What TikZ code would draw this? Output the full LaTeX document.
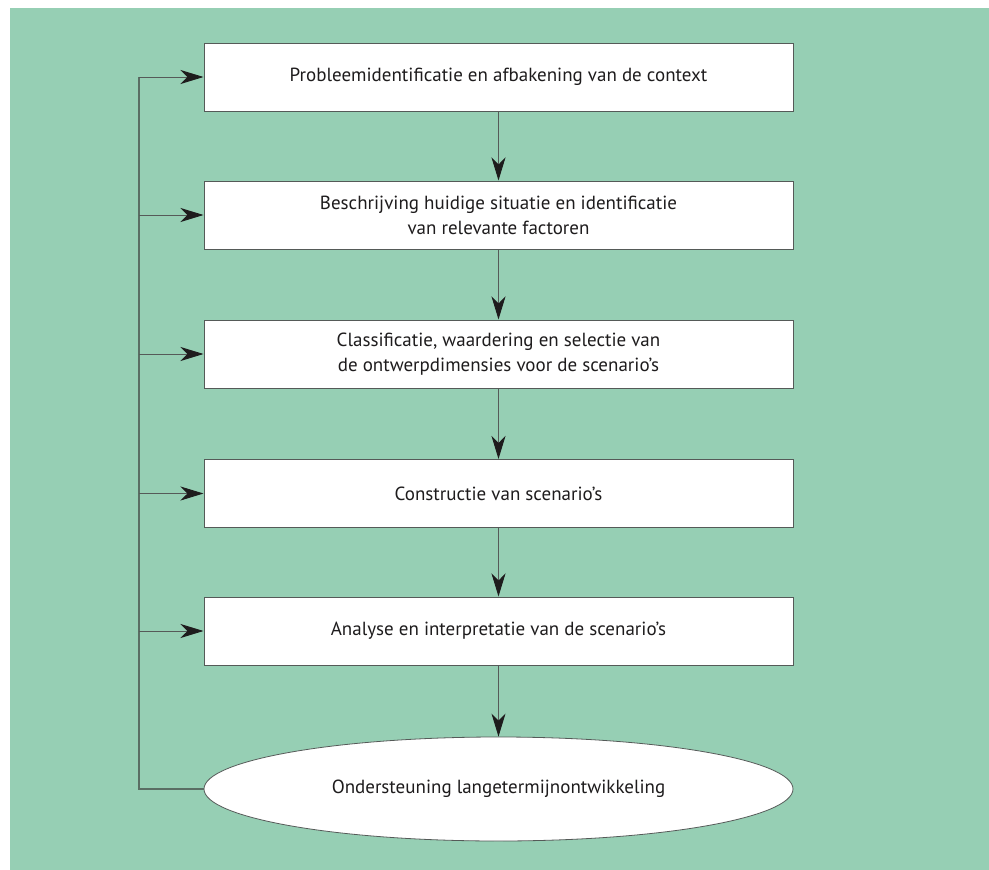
\documentclass[tikz,border=0pt]{standalone}
\usepackage{fontspec}
\setmainfont{PT Sans}
\usetikzlibrary{arrows.meta,shapes.geometric}
\definecolor{panel}{RGB}{150,207,180}
\definecolor{ink}{RGB}{30,28,29}
\definecolor{rule}{RGB}{85,90,88}
\definecolor{loopline}{RGB}{90,110,100}
\begin{document}
\begin{tikzpicture}[x=1pt,y=-1pt,
  stepbox/.style={draw=rule,line width=1pt,fill=white,minimum width=589pt,minimum height=68pt,
    inner sep=0pt,align=center,font=\fontsize{19}{25}\selectfont,text=ink},
  goal/.style={ellipse,draw=rule,line width=0.8pt,fill=white,minimum width=589pt,minimum height=104pt,
    inner sep=0pt,font=\fontsize{19}{25}\selectfont,text=ink},
  flow/.style={draw=rule,line width=0.9pt,-{Stealth[length=23pt,width=14pt,inset=7pt,color=ink]}},
  loop/.style={draw=loopline,line width=1.4pt}]
\useasboundingbox (0,0) rectangle (989,870);
\fill[panel] (10,8) rectangle (989,870);

\node[stepbox] (s1) at (498.5,77) {Probleemidentificatie en afbakening van de context};
\node[stepbox] (s2) at (498.5,215) {Beschrijving huidige situatie en identificatie\\van relevante factoren};
\node[stepbox] (s3) at (498.5,354) {Classificatie, waardering en selectie van\\de ontwerpdimensies voor de scenario's};
\node[stepbox] (s4) at (498.5,493.5) {Constructie van scenario's};
\node[stepbox] (s5) at (498.5,631) {Analyse en interpretatie van de scenario's};
\node[goal] (g) at (498.5,789) {Ondersteuning langetermijnontwikkeling};

% downward flow
\draw[flow] (s1) -- (s2);
\draw[flow] (s2) -- (s3);
\draw[flow] (s3) -- (s4);
\draw[flow] (s4) -- (s5);
\draw[flow] (s5) -- (g);

% feedback line on the left
\coordinate (top) at (139,77);
\coordinate (bot) at (139,789);
\coordinate (b2) at (139,215);
\coordinate (b3) at (139,354);
\coordinate (b4) at (139,493.5);
\coordinate (b5) at (139,631);
\draw[loop] (g.west) -- (bot) -- (top);
\draw[flow] (top) -- (s1.west);
\draw[flow] (b2) -- (s2.west);
\draw[flow] (b3) -- (s3.west);
\draw[flow] (b4) -- (s4.west);
\draw[flow] (b5) -- (s5.west);
\end{tikzpicture}
\end{document}
